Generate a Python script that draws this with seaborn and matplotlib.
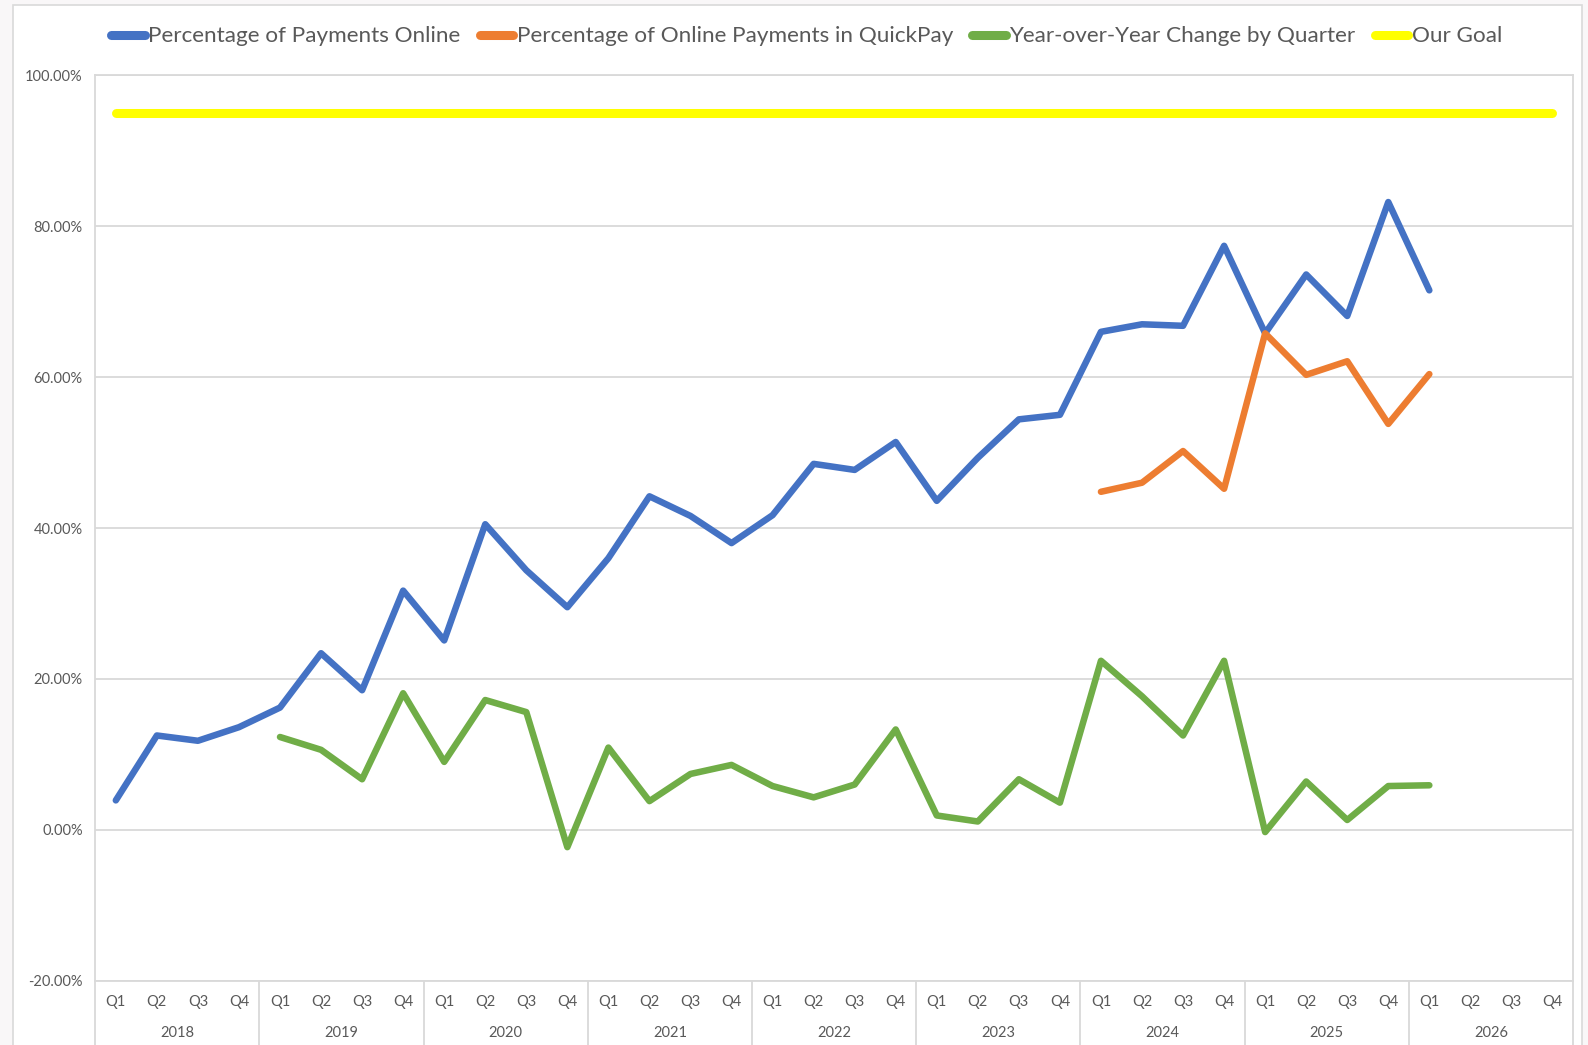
import numpy as np
import pandas as pd
import matplotlib
matplotlib.use("Agg")
import matplotlib.pyplot as plt
import matplotlib.transforms as mtransforms
from matplotlib.patches import Rectangle
from matplotlib.lines import Line2D
import seaborn as sns

# ---------------- data ----------------
years = ["2018", "2019", "2020", "2021", "2022", "2023", "2024", "2025", "2026"]
quarters = ["Q1", "Q2", "Q3", "Q4"]

pct_online = [3.9, 12.5, 11.8, 13.6,
              16.2, 23.4, 18.5, 31.7,
              25.1, 40.5, 34.4, 29.5,
              36.0, 44.2, 41.6, 38.0,
              41.7, 48.5, 47.7, 51.4,
              43.6, 49.3, 54.4, 55.0,
              66.0, 67.0, 66.8, 77.4,
              65.8, 73.6, 68.1, 83.2,
              71.5, None, None, None]

pct_quickpay = [None] * 24 + [44.8, 46.0, 50.2, 45.2,
                              65.8, 60.3, 62.1, 53.8,
                              60.4, None, None, None]

yoy_change = [None, None, None, None,
              12.3, 10.6, 6.7, 18.1,
              9.0, 17.2, 15.6, -2.3,
              10.9, 3.8, 7.4, 8.6,
              5.8, 4.3, 6.0, 13.3,
              1.9, 1.1, 6.7, 3.6,
              22.4, 17.7, 12.5, 22.4,
              -0.3, 6.4, 1.3, 5.8,
              5.9, None, None, None]

goal = [95.0] * 36

series_names = ["Percentage of Payments Online",
                "Percentage of Online Payments in QuickPay",
                "Year-over-Year Change by Quarter",
                "Our Goal"]
series_values = [pct_online, pct_quickpay, yoy_change, goal]
series_colors = ["#4472C4", "#ED7D31", "#70AD47", "#FFFF00"]
series_widths = [4.7, 4.7, 4.7, 6.5]

y_ticks = [-20, 0, 20, 40, 60, 80, 100]

# ---------------- figure ----------------
sns.set_theme(style="white")
plt.rcParams["font.family"] = ["Lato", "DejaVu Sans"]

W, H = 1588, 1045
fig = plt.figure(figsize=(W / 100, H / 100), dpi=100)
fig.patch.set_facecolor("#F9F7F8")

# white chart frame
frame = Rectangle((12.7 / W, -0.02), (1582 - 12.7) / W, 1 - 5.3 / H + 0.02,
                  transform=fig.transFigure, facecolor="white",
                  edgecolor="#D9D9D9", linewidth=1.2, zorder=-10)
fig.patches.append(frame)

left, right = 95.3 / W, 1573 / W
bottom, top = 1 - 980.7 / H, 1 - 75.3 / H
ax = fig.add_axes([left, bottom, right - left, top - bottom])
ax.set_zorder(5)
ax.set_facecolor("white")

n = len(years) * len(quarters)
pos = np.arange(n)
q_labels = [q for _ in years for q in quarters]

rows = []
for name, vals in zip(series_names, series_values):
    for p, v in zip(pos, vals):
        rows.append({"pos": p, "value": np.nan if v is None else v, "series": name})
df = pd.DataFrame(rows)

handles = []
for i, (name, col, lw) in enumerate(zip(series_names, series_colors, series_widths)):
    sub = df[(df["series"] == name)].dropna()
    sns.lineplot(data=sub, x="pos", y="value", ax=ax, color=col, linewidth=lw,
                 solid_capstyle="round", solid_joinstyle="round",
                 zorder=3 + i, legend=False)
    handles.append(Line2D([0], [0], color=col, linewidth=6.5,
                          solid_capstyle="round", label=name))

ax.set_xlim(-0.5, n - 0.5)
ax.set_ylim(-20, 100)
ax.set_yticks(y_ticks)
ax.set_yticklabels([f"{t:.2f}%" for t in y_ticks])
ax.set_xticks(pos)
ax.set_xticklabels(q_labels)
ax.set_xlabel("")
ax.set_ylabel("")
ax.grid(axis="y", color="#D9D9D9", linewidth=1.3)
ax.grid(axis="x", visible=False)
ax.tick_params(axis="both", length=0, labelsize=10.5, colors="#595959")
ax.tick_params(axis="x", pad=10)
ax.tick_params(axis="y", pad=9)
for s in ax.spines.values():
    s.set_color("#D9D9D9")
    s.set_linewidth(1.3)

# multi-level category axis: year separators and year labels
trans = mtransforms.blended_transform_factory(ax.transData, ax.transAxes)
depth = (H - 980.7 + 5) / (980.7 - 75.3)
for k in range(len(years) + 1):
    xb = 4 * k - 0.5
    ax.add_line(Line2D([xb, xb], [0, -depth], transform=trans, color="#D9D9D9",
                       linewidth=1.3, clip_on=False))
year_y = -(1033 - 980.7) / (980.7 - 75.3)
for k, yr in enumerate(years):
    ax.text(4 * k + 1.5, year_y, yr, transform=trans, ha="center", va="center",
            fontsize=10.5, color="#595959")

fig.legend(handles=handles, labels=series_names, loc="center",
           bbox_to_anchor=(806.5 / W, 1 - 36.5 / H), ncol=4, frameon=False,
           fontsize=16.2, handlelength=1.5, handletextpad=0.15,
           columnspacing=0.85, labelcolor="#595959")

fig.savefig("out.png", dpi=100, facecolor=fig.get_facecolor())
